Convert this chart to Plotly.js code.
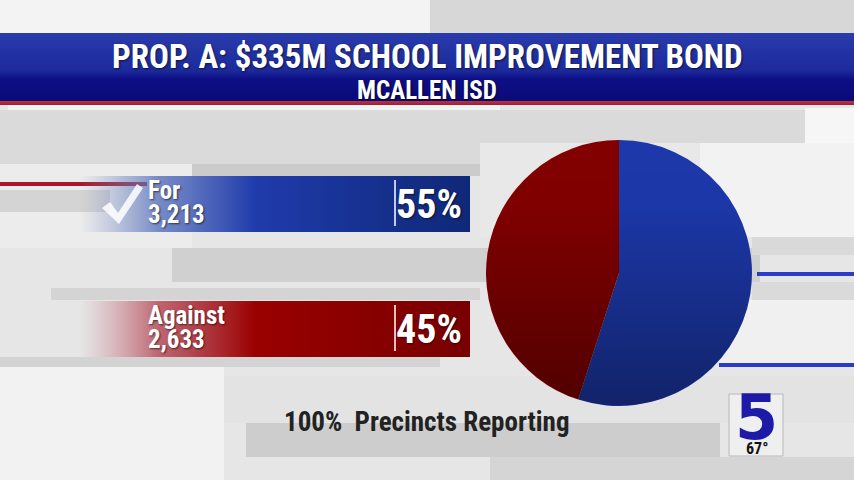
<!DOCTYPE html>
<html>
<head>
<meta charset="utf-8">
<script src="https://cdn.plot.ly/plotly-3.0.1.min.js"></script>
<style>html,body{margin:0;padding:0;background:#e6e6e6;}#chart{width:854px;height:480px;}</style>
</head>
<body>
<div id="chart"></div>
<script>
// ---- data ----
const titleText = 'PROP. A: $335M SCHOOL IMPROVEMENT BOND';
const subtitleText = 'MCALLEN ISD';
const categories = ['For', 'Against'];
const votes = [3213, 2633];
const sliceColors = ['#1c38aa', '#820000'];
const footerText = '100%  Precincts Reporting';
const stationLabel = '5';
const temperatureLabel = '67°';

const total = votes.reduce((a, b) => a + b, 0);
const percents = votes.map(v => Math.round(v / total * 100) + '%');

const NARROW = "'Roboto Condensed', 'Open Sans Condensed', 'DejaVu Sans Condensed', sans-serif";
const WIDE = "'DejaVu Sans', 'Liberation Sans', Arial, sans-serif";

// ---- decoration helpers ----
function rect(x0, x1, y0, y1, fill, layer) {
  return {type: 'rect', xref: 'x', yref: 'y', x0, x1, y0, y1,
          fillcolor: fill, line: {width: 0}, layer: layer || 'below'};
}
function panel(x0, x1, y0, y1, type, scale, start, stop) {
  return {type: 'scatter', mode: 'none', x: [x0, x1, x1, x0, x0], y: [y0, y0, y1, y1, y0],
          fill: 'toself', fillgradient: {type, colorscale: scale, start, stop},
          hoverinfo: 'skip', showlegend: false};
}

const shapes = [
  rect(0, 430, 0, 33, '#f3f3f3'),
  rect(430, 854, 0, 33, '#d7d7d7'),
  rect(8, 500, 105, 110, '#f4f4f4'),
  rect(0, 805, 110, 164, '#dadada'),
  rect(480, 854, 143, 237, '#e8e8e8'),
  rect(700, 854, 143, 237, '#f2f2f2'),
  rect(805, 854, 108, 143, '#f6f6f6'),
  rect(0, 192, 164, 248, '#ececec'),
  rect(192, 480, 164, 176, '#cbcbcb'),
  rect(0, 110, 190, 212, '#d4d4d4'),
  rect(172, 760, 248, 282, '#d0d0d0'),
  rect(752, 854, 237, 255, '#d9d9d9'),
  rect(752, 854, 282, 300, '#dadada'),
  rect(719, 854, 300, 363, '#f0f0f0'),
  rect(51, 480, 288, 300, '#d4d4d4'),
  rect(0, 440, 357, 367, '#d3d3d3'),
  rect(0, 224, 367, 480, '#f2f2f2'),
  rect(224, 854, 376, 423, '#e3e3e3'),
  rect(246, 720, 423, 457, '#cdcdcd'),
  rect(490, 854, 457, 480, '#d5d5d5'),
  rect(757, 854, 272, 276, '#2a3cc8'),
  rect(719, 854, 363, 367, '#2a3cc8'),
  rect(0, 147, 182, 186, '#a8182a'),
  // divider lines in the bars
  {type: 'line', xref: 'x', yref: 'y', x0: 395, x1: 395, y0: 180, y1: 226,
   line: {color: 'rgba(255,255,255,0.75)', width: 2}, layer: 'above'},
  {type: 'line', xref: 'x', yref: 'y', x0: 395, x1: 395, y0: 305, y1: 351,
   line: {color: 'rgba(255,255,255,0.75)', width: 2}, layer: 'above'},
  // check mark
  {type: 'path', xref: 'x', yref: 'y', path: 'M 102 208 L 110 202 L 118 213 L 137 184 L 143 188 L 119 224 Z',
   fillcolor: 'rgba(255,255,255,0.85)', line: {width: 0}, layer: 'above'},
  // station logo box
  {type: 'rect', xref: 'x', yref: 'y', x0: 729, x1: 783, y0: 394, y1: 456,
   fillcolor: '#efefef', line: {color: '#b8b8b8', width: 1}, layer: 'above'}
];

// pie placement (pixels)
const pieBox = {x0: 486, x1: 752, y0: 140, y1: 406};

const traces = [
  panel(0, 854, 33, 101, 'vertical',
        [[0, '#2a3bab'], [0.55, '#1c2a9c'], [0.68, '#0d0f85'], [1, '#0a0a78']], 33, 101),
  panel(0, 854, 101, 105, 'vertical', [[0, '#c03048'], [1, '#9a2030']], 101, 105),
  panel(80, 470, 176, 232, 'horizontal',
        [[0, 'rgba(120,140,190,0)'], [0.2, 'rgba(90,115,190,0.8)'], [0.45, '#1f3bab'], [1, '#0f2878']], 80, 470),
  panel(80, 470, 301, 357, 'horizontal',
        [[0, 'rgba(200,120,130,0)'], [0.2, 'rgba(180,70,85,0.8)'], [0.45, '#9a0000'], [1, '#780000']], 80, 470),
  {type: 'pie', values: votes, labels: categories, marker: {colors: sliceColors, line: {width: 0}},
   sort: false, direction: 'clockwise', rotation: 0, textinfo: 'none', hoverinfo: 'skip',
   showlegend: false,
   domain: {x: [pieBox.x0 / 854, pieBox.x1 / 854], y: [1 - pieBox.y1 / 480, 1 - pieBox.y0 / 480]}}
];

// vertical shading over the pie (decoration)
const shadeSvg = '<svg xmlns="http://www.w3.org/2000/svg" width="266" height="266" viewBox="0 0 266 266">' +
  '<defs><linearGradient id="g" x1="0" y1="0" x2="0" y2="1">' +
  '<stop offset="0" stop-color="#000" stop-opacity="0"/>' +
  '<stop offset="0.25" stop-color="#000" stop-opacity="0.02"/>' +
  '<stop offset="1" stop-color="#000" stop-opacity="0.38"/></linearGradient></defs>' +
  '<circle cx="133" cy="133" r="132.5" fill="url(#g)"/></svg>';

const white = (size, fam) => ({family: fam || NARROW, size, color: '#ffffff', weight: 'bold',
                               shadow: '1px 1px 2px rgba(0,0,0,0.6)'});
const ann = (text, x, y, font, xanchor) => ({text, x, y, xref: 'x', yref: 'y', showarrow: false,
                                             xanchor: xanchor || 'center', yanchor: 'middle', font});
const barTops = [176, 301];
const annotations = [
  ann(titleText, 427, 56, white(33)),
  ann(subtitleText, 427, 90, white(25)),
  ann(footerText, 426, 422, {family: NARROW, size: 27, color: '#222222', weight: 'bold'}),
  ann(stationLabel, 756, 417, {family: WIDE, size: 62, color: '#1e1aa8', weight: 'bold'}),
  ann(temperatureLabel, 757, 448, {family: NARROW, size: 16, color: '#111111', weight: 'bold'})
];
categories.forEach((c, i) => {
  const t = barTops[i];
  annotations.push(ann(c, 146, t + 14, white(25), 'left'));
  annotations.push(ann(votes[i].toLocaleString('en-US'), 146, t + 38, white(25), 'left'));
  annotations.push(ann(percents[i], 464, t + 28, white(40), 'right'));
});

const layout = {
  width: 854, height: 480, margin: {l: 0, r: 0, t: 0, b: 0},
  paper_bgcolor: '#e6e6e6', plot_bgcolor: 'rgba(0,0,0,0)',
  xaxis: {range: [0, 854], visible: false, fixedrange: true},
  yaxis: {range: [480, 0], visible: false, fixedrange: true},
  images: [{source: 'data:image/svg+xml;base64,' + btoa(shadeSvg), xref: 'paper', yref: 'paper',
            x: pieBox.x0 / 854, y: 1 - pieBox.y0 / 480, sizex: (pieBox.x1 - pieBox.x0) / 854,
            sizey: (pieBox.y1 - pieBox.y0) / 480, xanchor: 'left', yanchor: 'top',
            sizing: 'stretch', layer: 'above'}],
  shapes, annotations, showlegend: false
};

Plotly.newPlot('chart', traces, layout, {staticPlot: true, displayModeBar: false});
</script>
</body>
</html>
